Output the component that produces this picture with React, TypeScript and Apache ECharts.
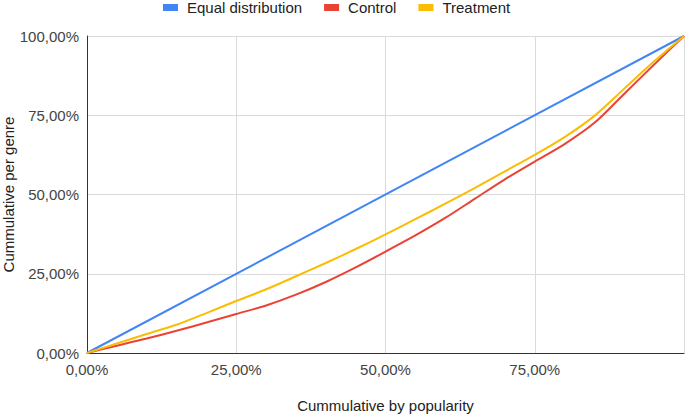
import React, { useEffect, useRef } from "react";
import * as echarts from "echarts";

const xPoints = [0, 5, 10, 15, 20, 25, 30, 35, 40, 45, 50, 55, 60, 65, 70, 75, 80, 85, 90, 95, 100];
const controlValues = [0, 2.3, 4.6, 7.0, 9.6, 12.3, 15.0, 18.4, 22.4, 27.0, 32.0, 37.1, 42.6, 48.7, 54.8, 60.4, 65.9, 72.6, 81.8, 91.0, 100];
const treatmentValues = [0, 3.0, 6.0, 8.9, 12.6, 16.4, 20.1, 24.2, 28.4, 32.8, 37.4, 42.2, 47.1, 52.1, 57.3, 62.5, 68.1, 74.8, 83.4, 92.0, 100];
const equalX = [0, 100];
const equalValues = [0, 100];

const seriesNames = ["Equal distribution", "Control", "Treatment"];
const seriesColors = ["#4285F4", "#EA4335", "#FBBC04"];

const fmt = (v: number) => v.toFixed(2).replace(".", ",") + "%";

export default function App() {
  const ref = useRef<HTMLDivElement>(null);
  useEffect(() => {
    if (!ref.current) return;
    const chart = echarts.init(ref.current, undefined, { renderer: "svg" });
    const font = "Arial, 'Liberation Sans', sans-serif";
    chart.setOption({
      animation: false,
      color: seriesColors,
      textStyle: { fontFamily: font },
      legend: {
        top: -5,
        left: 158,
        icon: "rect",
        itemWidth: 15,
        itemHeight: 7,
        itemGap: 22,
        textStyle: { fontSize: 15, color: "#222", fontFamily: font, padding: [0, 0, 0, 4] },
        data: seriesNames,
      },
      grid: { left: 87, right: 1, top: 36, bottom: 61, containLabel: false, outerBoundsMode: "none" },
      xAxis: {
        type: "value",
        min: 0,
        max: 100,
        interval: 25,
        name: "Cummulative by popularity",
        nameLocation: "middle",
        nameGap: 45,
        nameMoveOverlap: false,
        nameTextStyle: { fontSize: 15, color: "#222", fontFamily: font },
        axisLine: { show: true, lineStyle: { color: "#333", width: 1 } },
        axisTick: { show: false },
        axisLabel: {
          formatter: fmt,
          fontSize: 15,
          color: "#444",
          margin: 9,
          showMaxLabel: false,
          fontFamily: font,
        },
        splitLine: { show: true, lineStyle: { color: "#dadada", width: 1 } },
      },
      yAxis: {
        type: "value",
        min: 0,
        max: 100,
        interval: 25,
        name: "Cummulative per genre",
        nameLocation: "middle",
        nameGap: 71,
        nameMoveOverlap: false,
        nameTextStyle: { fontSize: 15, color: "#222", fontFamily: font },
        axisLine: { show: true, lineStyle: { color: "#333", width: 1 } },
        axisTick: { show: false },
        axisLabel: { formatter: fmt, fontSize: 15, color: "#444", margin: 8, fontFamily: font },
        splitLine: { show: true, lineStyle: { color: "#dadada", width: 1 } },
      },
      series: [
        {
          name: seriesNames[0],
          type: "line",
          data: equalX.map((x, i) => [x, equalValues[i]]),
          showSymbol: false,
          lineStyle: { width: 2 },
        },
        {
          name: seriesNames[1],
          type: "line",
          smooth: 0.3,
          data: xPoints.map((x, i) => [x, controlValues[i]]),
          showSymbol: false,
          lineStyle: { width: 2 },
        },
        {
          name: seriesNames[2],
          type: "line",
          smooth: 0.3,
          data: xPoints.map((x, i) => [x, treatmentValues[i]]),
          showSymbol: false,
          lineStyle: { width: 2 },
        },
      ],
    });
    return () => chart.dispose();
  }, []);
  return <div ref={ref} style={{ width: 685, height: 414, position: "absolute", left: 0, top: 0 }} />;
}
